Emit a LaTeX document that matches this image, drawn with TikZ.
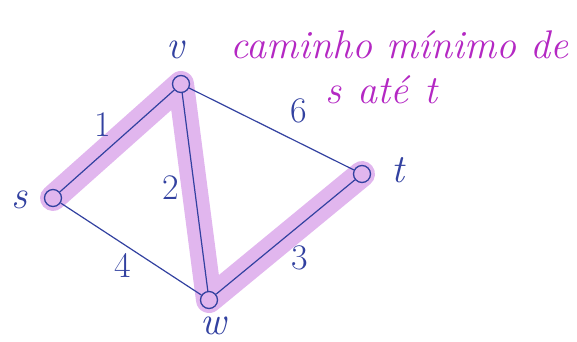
\documentclass[tikz,border=0pt]{standalone}
\usepackage{tikz}
\usetikzlibrary{backgrounds}
\usepackage{xcolor}
\definecolor{gblue}{RGB}{50,65,160}
\definecolor{glilac}{RGB}{225,182,238}
\definecolor{gmag}{RGB}{180,40,195}

\begin{document}
\begin{tikzpicture}[x=1pt,y=-1pt,
  vert/.style={circle,draw=gblue,line width=1.3pt,minimum size=17pt,inner sep=0pt},
  aresta/.style={gblue,line width=1.2pt},
  rot/.style={text=gblue,inner sep=0pt,font=\fontsize{40}{42}\selectfont\itshape},
  peso/.style={text=gblue,font=\fontsize{36}{38}\selectfont},
  caminho/.style={glilac,line width=26pt,line cap=round,line join=round},
  nota/.style={text=gmag,font=\fontsize{40}{42}\selectfont\itshape,anchor=base west}
]
\useasboundingbox (0,0) rectangle (577,341);

% vertices
\node[vert] (s) at (53,198) {};
\node[vert] (v) at (181,84) {};
\node[vert] (t) at (362,174) {};
\node[vert] (w) at (209,300) {};
\node[rot] (ls) at (20,200) {s};
\node[rot] (lv) at (175,50) {v};
\node[rot] (lt) at (398,170) {t};
\node[rot] (lw) at (213,326) {w};

% shortest path s-v-w-t
\begin{scope}[on background layer]
\draw[caminho] (s.center) -- (v.center) -- (w.center) -- (t.center);
\end{scope}

% edges
\draw[aresta] (s)--(v); \draw[aresta] (v)--(t);
\draw[aresta] (v)--(w); \draw[aresta] (s)--(w);
\draw[aresta] (w)--(t);
\node[peso] (p1) at (103,125) {1};
\node[peso] (p6) at (299,111) {6};
\node[peso] (p2) at (171,188) {2};
\node[peso] (p4) at (123,265) {4};
\node[peso] (p3) at (300,258) {3};

% note
\node[nota] (n1) at (227,58) {caminho mínimo de};
\node[nota] (n2) at (322,103) {s\hspace{0.4em}até\hspace{0.4em}t};
\end{tikzpicture}
\end{document}
